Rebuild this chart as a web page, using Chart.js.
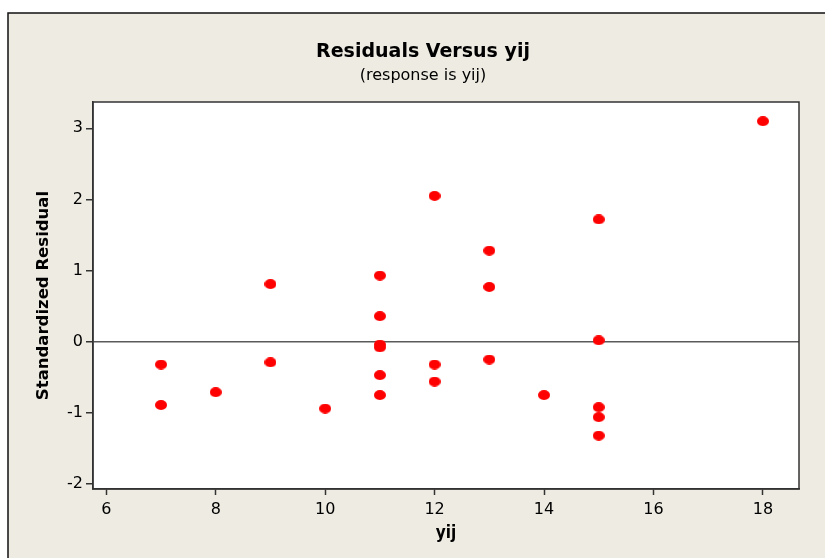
<!DOCTYPE html>
<html>
<head>
<meta charset="utf-8">
<script src="https://cdn.jsdelivr.net/npm/chart.js@4/dist/chart.umd.min.js"></script>
<style>
  html, body { margin: 0; padding: 0; background: #ffffff; }
  #wrap { position: absolute; left: 0; top: 0; width: 825px; height: 558px; }
</style>
</head>
<body>
<div id="wrap"><canvas id="c" width="825" height="558"></canvas></div>
<script>
// ---- Data ----
const xValues = [7, 7, 8, 9, 9, 10, 11, 11, 11, 11, 11, 11, 12, 12, 12, 13, 13, 13, 14, 15, 15, 15, 15, 15, 18];
const residuals = [-0.32, -0.89, -0.71, 0.81, -0.29, -0.94, 0.93, 0.36, -0.04, -0.08, -0.47, -0.75, 2.05, -0.32, -0.56, 1.28, 0.77, -0.25, -0.75, 1.72, 0.02, -0.92, -1.06, -1.32, 3.10];
const xTicks = [6, 8, 10, 12, 14, 16, 18];
const yTicks = [-2, -1, 0, 1, 2, 3];
const chartTitle = 'Residuals Versus yij';
const chartSubtitle = '(response is yij)';
const xTitle = 'yij';
const yTitle = 'Standardized Residual';

const FONT = "'DejaVu Sans', sans-serif";
const FONT_C = "'DejaVu Sans Condensed', 'DejaVu Sans', sans-serif";
const BG = '#eeebe2';

// elliptical red marker
const marker = document.createElement('canvas');
marker.width = 12; marker.height = 10;
(function () {
  const g = marker.getContext('2d');
  g.fillStyle = '#ff0000';
  g.beginPath();
  g.ellipse(6, 5, 6, 5, 0, 0, Math.PI * 2);
  g.fill();
})();

const frame = {
  id: 'frame',
  beforeDraw(chart) {
    const ctx = chart.ctx;
    ctx.save();
    ctx.fillStyle = '#ffffff';
    ctx.fillRect(0, 0, chart.width, chart.height);
    ctx.fillStyle = BG;
    ctx.fillRect(8, 13, chart.width - 8, chart.height - 13);
    ctx.strokeStyle = '#111111';
    ctx.lineWidth = 1.5;
    ctx.beginPath();
    ctx.moveTo(8, chart.height);
    ctx.lineTo(8, 13);
    ctx.lineTo(chart.width, 13);
    ctx.stroke();
    const a = chart.chartArea;
    ctx.fillStyle = '#ffffff';
    ctx.fillRect(a.left, a.top, a.right - a.left, a.bottom - a.top);
    ctx.restore();
  },
  afterDraw(chart) {
    const ctx = chart.ctx;
    const a = chart.chartArea;
    ctx.save();
    ctx.strokeStyle = '#333333';
    ctx.lineWidth = 1.5;
    ctx.strokeRect(a.left, a.top, a.right - a.left, a.bottom - a.top);
    ctx.restore();
  }
};

new Chart(document.getElementById('c'), {
  type: 'scatter',
  data: {
    datasets: [{
      data: xValues.map((x, i) => ({ x: x, y: residuals[i] })),
      pointStyle: marker,
      pointRadius: 6,
      pointHoverRadius: 6,
      backgroundColor: '#ff0000',
      borderColor: '#ff0000'
    }]
  },
  options: {
    responsive: false,
    animation: false,
    devicePixelRatio: 1,
    layout: { padding: { left: 47, right: 26, top: 0, bottom: 0 } },
    plugins: {
      legend: { display: false },
      tooltip: { enabled: false },
      title: {
        display: true,
        text: chartTitle,
        color: '#000000',
        font: { family: FONT, size: 19, weight: 'bold' },
        padding: { top: 40.6, bottom: 1.5 }
      },
      subtitle: {
        display: true,
        text: chartSubtitle,
        color: '#000000',
        font: { family: FONT, size: 16, weight: 'normal' },
        padding: { top: 1.5, bottom: 16.4 }
      }
    },
    scales: {
      x: {
        type: 'linear',
        min: 5.757,
        max: 18.66,
        afterFit(scale) { scale.height = 69; },
        afterBuildTicks(scale) { scale.ticks = xTicks.map(v => ({ value: v })); },
        grid: { drawOnChartArea: false, tickLength: 6, tickColor: '#333333', tickWidth: 1.5 },
        border: { display: true, color: '#333333', width: 1.5 },
        ticks: { color: '#000000', padding: 5, maxRotation: 0, font: { family: FONT, size: 16 } },
        title: {
          display: true,
          text: xTitle,
          color: '#000000',
          font: { family: FONT_C, size: 17, weight: 'bold' },
          padding: { top: 0, bottom: 14.4 }
        }
      },
      y: {
        type: 'linear',
        min: -2.07,
        max: 3.37,
        afterFit(scale) { scale.width = 46; },
        afterBuildTicks(scale) { scale.ticks = yTicks.map(v => ({ value: v })); },
        grid: {
          drawOnChartArea: true,
          tickLength: 7,
          tickColor: '#333333',
          tickWidth: 1.5,
          lineWidth: 1.5,
          color: (c) => (c.tick && c.tick.value === 0) ? '#5a5a5a' : 'rgba(0,0,0,0)'
        },
        border: { display: true, color: '#333333', width: 1.5 },
        ticks: { color: '#000000', padding: 3, font: { family: FONT, size: 16 } },
        title: {
          display: true,
          text: yTitle,
          color: '#000000',
          font: { family: FONT, size: 16.5, weight: 'bold' },
          padding: { top: -12.9, bottom: 0 }
        }
      }
    }
  },
  plugins: [frame]
});
</script>
</body>
</html>
